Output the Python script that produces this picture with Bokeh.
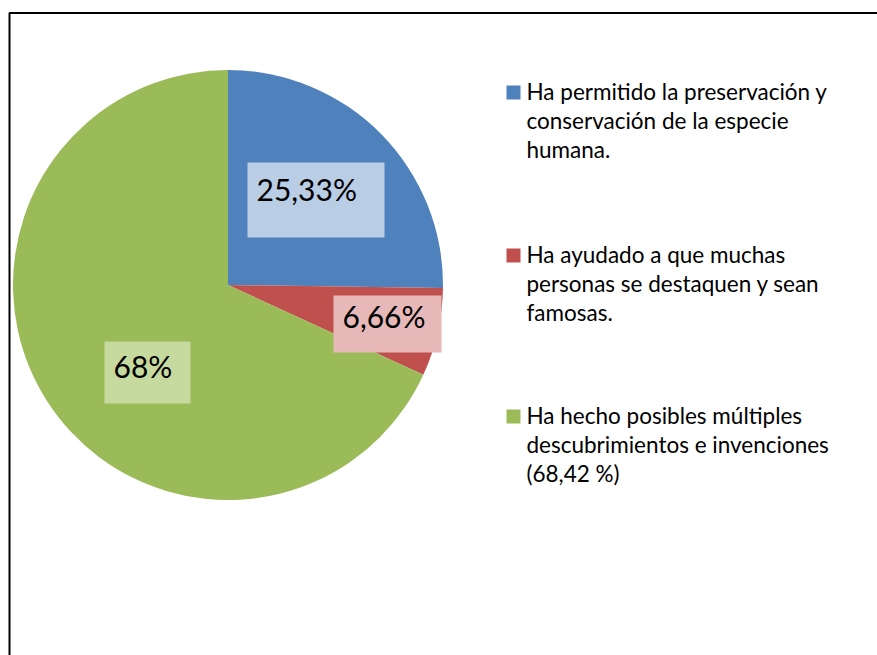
import math
from bokeh.plotting import figure
from bokeh.models import Range1d, ColumnDataSource
from bokeh.core.properties import value
from bokeh.embed import file_html
from bokeh.resources import INLINE

# ---- data ----
categories = [
    "Ha permitido la preservación y conservación de la especie humana.",
    "Ha ayudado a que muchas personas se destaquen y sean famosas.",
    "Ha hecho posibles múltiples descubrimientos e invenciones (68,42 %)",
]
legend_lines = [
    ["Ha permitido la preservación y", "conservación de la especie", "humana."],
    ["Ha ayudado a que muchas", "personas se destaquen y sean", "famosas."],
    ["Ha hecho posibles múltiples", "descubrimientos e invenciones", "(68,42 %)"],
]
percent_values = [25.33, 6.66, 68.42]
data_labels = ["25,33%", "6,66%", "68%"]

# ---- style / layout ----
slice_colors = ["#4F81BD", "#C0504D", "#9BBB59"]
label_box_colors = ["#B9CDE5", "#E6B9B8", "#C6D99E"]
W, H = 877, 655
OFF = 0  # page offset of the figure


def fx(px):
    return px - OFF


def fy(py):
    return H - (py - OFF)


p = figure(width=W, height=H, output_backend="svg", toolbar_location=None,
           x_range=Range1d(0, W), y_range=Range1d(0, H),
           x_axis_location=None, y_axis_location=None, min_border=0)
p.grid.visible = False
p.outline_line_color = None
p.background_fill_color = "white"
p.border_fill_color = "white"

# frame border (left and top visible, rest cut off by the page)
p.line(x=[fx(9), fx(9), W + 20], y=[-20, fy(12.5), fy(12.5)],
       line_color="black", line_width=2)

# ---- pie ----
cx, cy, r = fx(227.5), fy(284.5), 215
total = sum(percent_values)
starts, ends = [], []
cum = 0.0
for v in percent_values:
    starts.append(math.pi / 2 - 2 * math.pi * cum / total)
    cum += v
    ends.append(math.pi / 2 - 2 * math.pi * cum / total)

src = ColumnDataSource(dict(start=starts, end=ends, color=slice_colors))
p.wedge(x=cx, y=cy, radius=r, start_angle="start", end_angle="end",
        direction="clock", fill_color="color", line_color=None, source=src)

# ---- data labels with boxes ----
label_boxes = [(247, 162, 384, 237), (333, 295, 441, 352), (104, 341, 190, 403)]
label_text_pos = [(256, 188), (342, 315), (113, 365)]
p.quad(left=[fx(b[0]) for b in label_boxes], right=[fx(b[2]) for b in label_boxes],
       top=[fy(b[1]) for b in label_boxes], bottom=[fy(b[3]) for b in label_boxes],
       fill_color=label_box_colors, line_color=None)
p.text(x=[fx(t[0]) for t in label_text_pos], y=[fy(t[1]) for t in label_text_pos],
       text=data_labels, text_font=value("Lato"), text_font_size="30px",
       text_color="black", text_baseline="alphabetic", text_align="left")

# ---- legend ----
legend_first_baseline = [91, 254, 415]
line_step = 29
sq_x0, sq_x1, text_x = 506, 520, 526
sq_l, sq_r, sq_t, sq_b = [], [], [], []
lx, ly, lt = [], [], []
for i, lines in enumerate(legend_lines):
    b0 = legend_first_baseline[i]
    sq_l.append(fx(sq_x0)); sq_r.append(fx(sq_x1))
    sq_t.append(fy(b0 - 6)); sq_b.append(fy(b0 + 8))
    for j, ln in enumerate(lines):
        lx.append(fx(text_x)); ly.append(fy(b0 + j * line_step)); lt.append(ln)
p.quad(left=sq_l, right=sq_r, top=sq_t, bottom=sq_b,
       fill_color=slice_colors, line_color=None)
p.text(x=lx, y=ly, text=lt, text_font=value("Lato"), text_font_size="22.5px",
       text_color="black", text_baseline="alphabetic", text_align="left")

open("out.html", "w").write(file_html(p, INLINE))
